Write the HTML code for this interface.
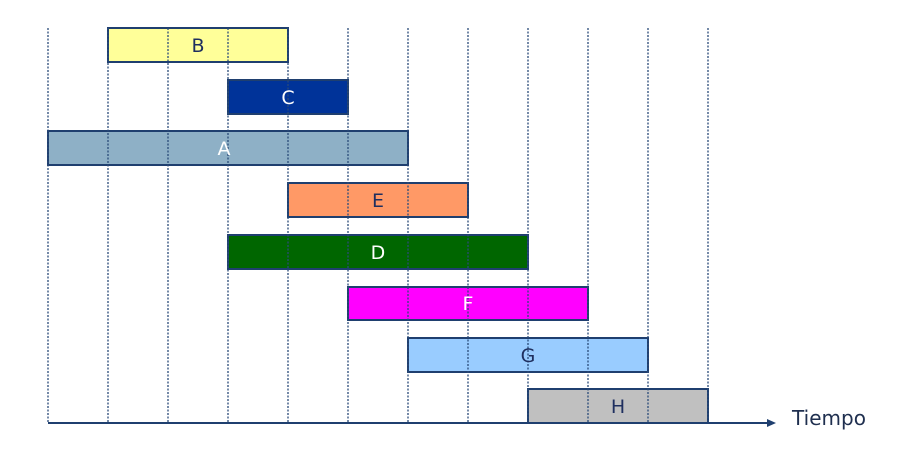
<!DOCTYPE html>
<html><head><style>body{margin:0;background:#fff}svg{display:block}</style></head><body>
<svg width="908" height="450" xmlns="http://www.w3.org/2000/svg" font-family="DejaVu Sans, Liberation Sans, sans-serif">
<g stroke="#1f3f6f" stroke-width="2">
<rect x="108" y="28" width="180" height="34" fill="#ffff99"/>
<rect x="228" y="80" width="120" height="34" fill="#003399"/>
<rect x="48" y="131" width="360" height="34" fill="#8eb0c6"/>
<rect x="288" y="183" width="180" height="34" fill="#ff9966"/>
<rect x="228" y="235" width="300" height="34" fill="#006600"/>
<rect x="348" y="287" width="240" height="33" fill="#ff00ff"/>
<rect x="408" y="338" width="240" height="34" fill="#99ccff"/>
<rect x="528" y="389" width="180" height="34" fill="#c0c0c0"/>
</g>
<g stroke="#2a4a78" stroke-width="1.3" stroke-dasharray="2,1.5">
<line x1="48" y1="28" x2="48" y2="423"/><line x1="108" y1="28" x2="108" y2="423"/>
<line x1="168" y1="28" x2="168" y2="423"/><line x1="228" y1="28" x2="228" y2="423"/>
<line x1="288" y1="28" x2="288" y2="423"/><line x1="348" y1="28" x2="348" y2="423"/>
<line x1="408" y1="28" x2="408" y2="423"/><line x1="468" y1="28" x2="468" y2="423"/>
<line x1="528" y1="28" x2="528" y2="423"/><line x1="588" y1="28" x2="588" y2="423"/>
<line x1="648" y1="28" x2="648" y2="423"/><line x1="708" y1="28" x2="708" y2="423"/>
</g>
<line x1="48" y1="423" x2="770" y2="423" stroke="#1f3f6f" stroke-width="2"/>
<polygon points="776,423 767,419 767,427" fill="#1f3f6f"/>
<g font-size="19" text-anchor="middle">
<text x="198" y="52" fill="#1f2f5f">B</text>
<text x="288" y="104" fill="#fff">C</text>
<text x="224" y="155" fill="#fff">A</text>
<text x="378" y="207" fill="#1f2f5f">E</text>
<text x="378" y="259" fill="#fff">D</text>
<text x="468" y="310" fill="#fff">F</text>
<text x="528" y="362" fill="#1f2f5f">G</text>
<text x="618" y="413" fill="#1f2f5f">H</text>
</g>
<text x="792" y="425" font-size="20" fill="#1f2f4f" textLength="74">Tiempo</text>
</svg>
</body></html>
